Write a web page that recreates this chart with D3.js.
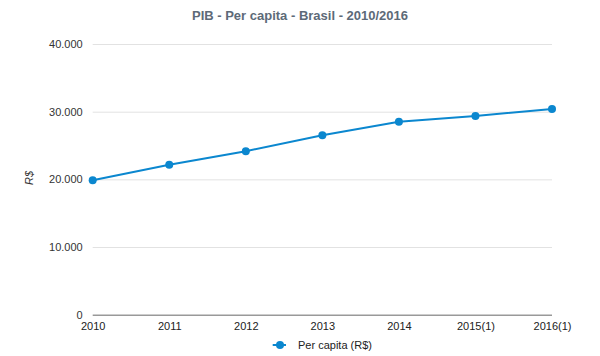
<!DOCTYPE html>
<html><head><meta charset="utf-8">
<script src="https://cdn.jsdelivr.net/npm/d3@7"></script>
<style>body{margin:0;background:#fff}svg{display:block;font-family:"Liberation Sans",Arial,sans-serif}</style>
</head><body>
<svg id="c" width="600" height="356"></svg>
<script>
const categories = ["2010","2011","2012","2013","2014","2015(1)","2016(1)"];
const perCapita = [19878, 22171, 24165, 26520, 28500, 29347, 30407];
const yTicks = [0, 10000, 20000, 30000, 40000];
const seriesName = "Per capita (R$)";
const title = "PIB - Per capita - Brasil - 2010/2016";

(function () {
const svg = d3.select("#c");
const mLeft = 92.7, mRight = 552, mTop = 44, mBottom = 314.7;
const x = d3.scalePoint().domain(categories).range([mLeft, mRight]);
const y = d3.scaleLinear().domain([0, 40000]).range([mBottom, mTop]);
const fmt = v => d3.format(",")(v).replace(/,/g, ".");
const color = "#0b87cf";

svg.append("text").attr("x", 300).attr("y", 20).attr("text-anchor", "middle")
  .attr("font-size", 13).attr("font-weight", "bold").attr("fill", "#5d6a78").text(title);

const gy = svg.append("g").attr("transform", `translate(${mLeft},0)`)
  .call(d3.axisLeft(y).tickValues(yTicks).tickFormat(fmt).tickSize(-(mRight - mLeft)).tickPadding(10));
gy.select(".domain").remove();
gy.selectAll(".tick line").attr("stroke", d => d === 0 ? "#999" : "#e2e2e2").attr("stroke-width", d => d === 0 ? 1.5 : 1);
gy.selectAll(".tick text").attr("font-size", 11).attr("fill", "#333").attr("font-family", "Liberation Sans, Arial, sans-serif");

const gx = svg.append("g").attr("transform", `translate(0,${mBottom})`)
  .call(d3.axisBottom(x).tickSize(0).tickPadding(8));
gx.select(".domain").remove();
gx.selectAll(".tick text").attr("font-size", 11).attr("fill", "#222").attr("font-family", "Liberation Sans, Arial, sans-serif");

svg.append("text").attr("transform", "translate(33,178) rotate(-90)").attr("text-anchor", "middle")
  .attr("font-size", 11).attr("font-style", "italic").attr("fill", "#333").text("R$");

const pts = categories.map((c, i) => [c, perCapita[i]]);
svg.append("path").datum(pts).attr("fill", "none").attr("stroke", color).attr("stroke-width", 2)
  .attr("d", d3.line().x(d => x(d[0])).y(d => y(d[1])));
svg.selectAll("circle.pt").data(pts).enter().append("circle").attr("class", "pt")
  .attr("cx", d => x(d[0])).attr("cy", d => y(d[1])).attr("r", 4).attr("fill", color);

const lg = svg.append("g");
lg.append("line").attr("x1", 272.7).attr("x2", 286).attr("y1", 345).attr("y2", 345).attr("stroke", color).attr("stroke-width", 2);
lg.append("circle").attr("cx", 280).attr("cy", 345).attr("r", 4).attr("fill", color);
lg.append("text").attr("x", 298).attr("y", 349).attr("font-size", 11).attr("fill", "#222").text(seriesName);
})();
</script>
</body></html>
